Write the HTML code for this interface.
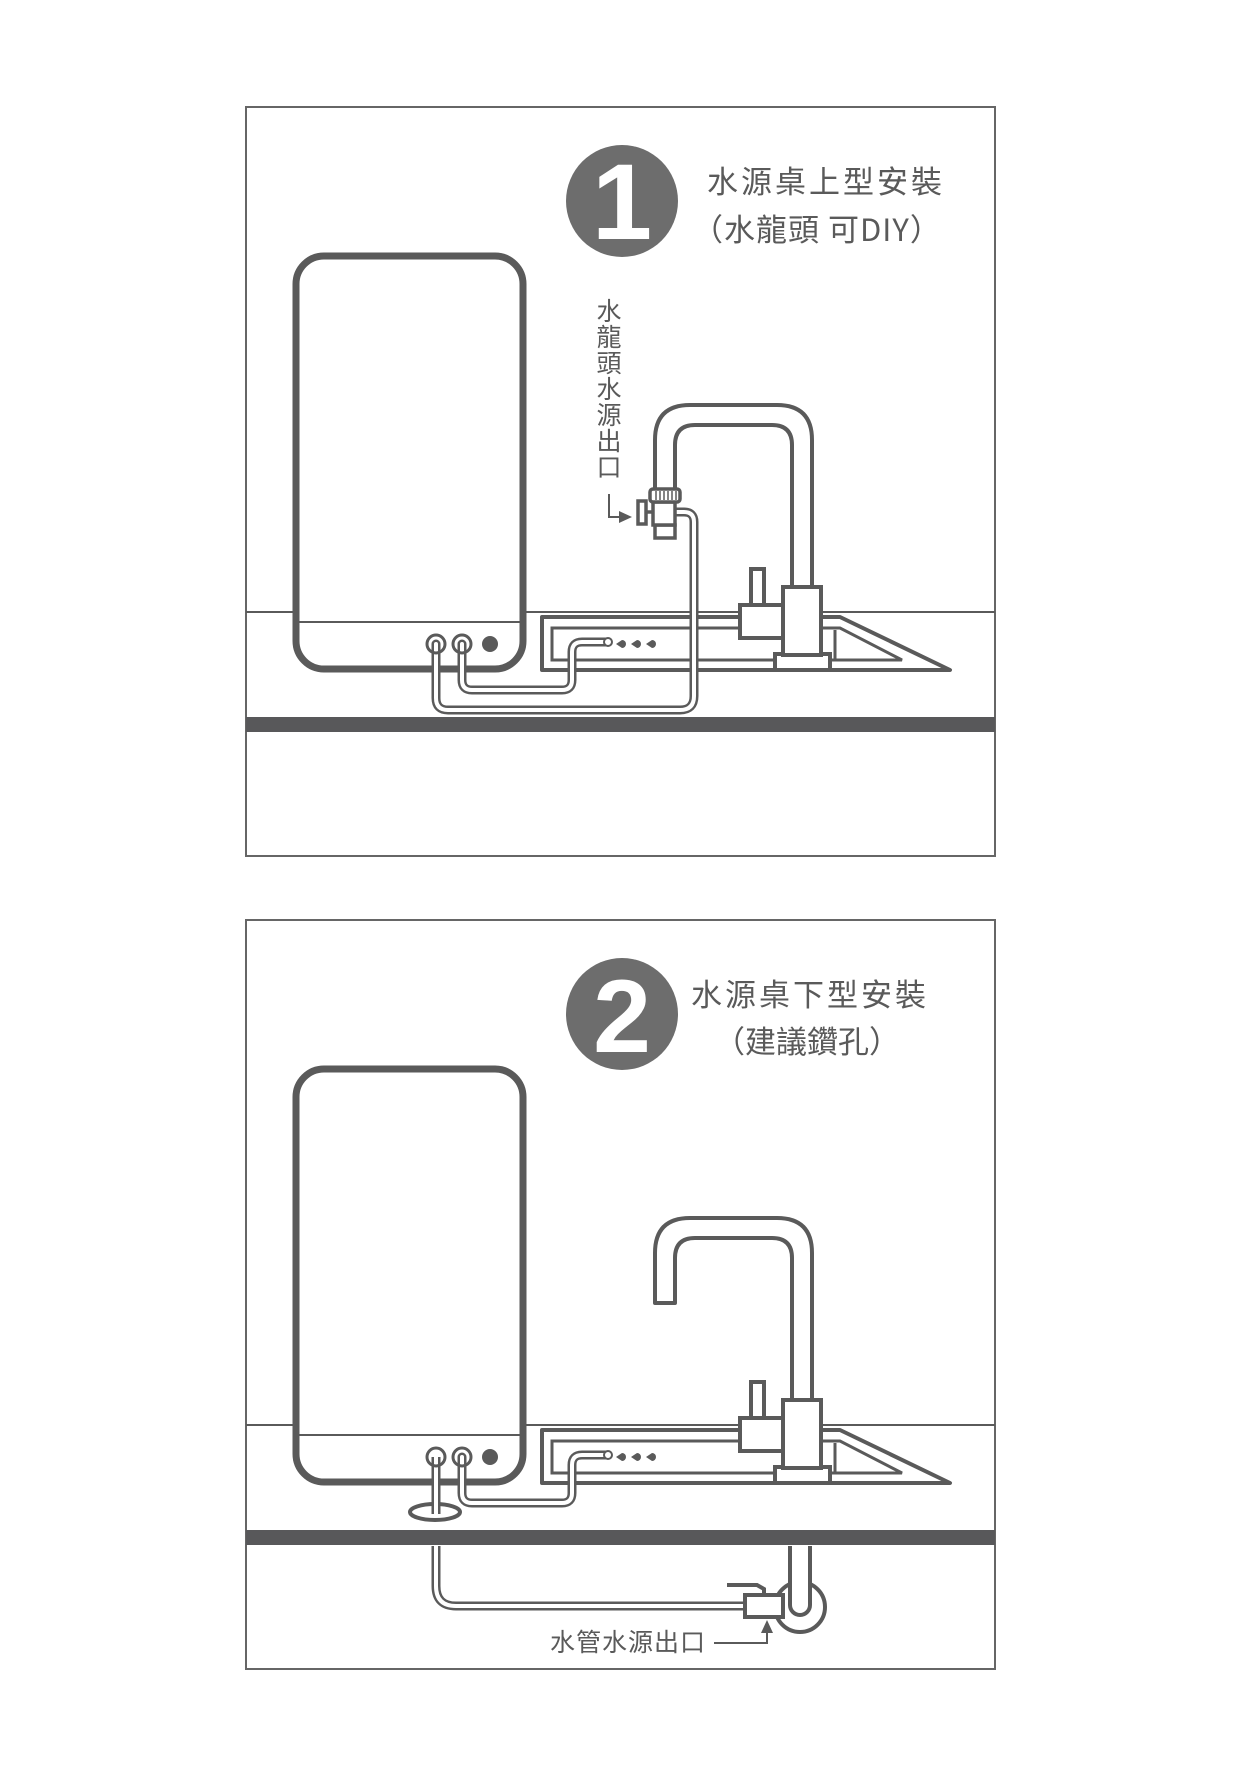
<!DOCTYPE html>
<html><head><meta charset="utf-8"><style>
html,body{margin:0;padding:0;background:#fff}
svg{display:block}
text{font-family:"Liberation Sans","Noto Sans CJK TC",sans-serif;fill:#5a5a5a}
.cjk{font-family:"Noto Sans CJK TC","Liberation Sans",sans-serif}
</style></head><body>
<svg width="1242" height="1778" viewBox="0 0 1242 1778" xmlns="http://www.w3.org/2000/svg">
<defs>
<g id="base">
  <line x1="246" y1="612" x2="995" y2="612" stroke="#5a5a5a" stroke-width="2"/>
  <rect x="246" y="717" width="749" height="15" fill="#58585a"/>
  <path d="M542,617 H840 L950,670 H542 Z" fill="#fff" stroke="#5a5a5a" stroke-width="4" stroke-linejoin="round"/>
  <path d="M552,628 H840 L902,660 H552 Z" fill="none" stroke="#5a5a5a" stroke-width="3"/>
  <line x1="835" y1="630" x2="835" y2="660" stroke="#5a5a5a" stroke-width="3"/>
  <rect x="296" y="256" width="227" height="413" rx="28" fill="#fff" stroke="#5a5a5a" stroke-width="7"/>
  <line x1="296" y1="622" x2="523" y2="622" stroke="#5a5a5a" stroke-width="2"/>
  <circle cx="490" cy="644" r="8" fill="#5a5a5a"/>
  <g fill="#5a5a5a">
    <path d="M616,644 L622,640 A4,4 0 1 1 622,648 Z"/>
    <path d="M631,644 L637,640 A4,4 0 1 1 637,648 Z"/>
    <path d="M646,644 L652,640 A4,4 0 1 1 652,648 Z"/>
  </g>
  <rect x="751" y="569" width="13" height="36" fill="#fff" stroke="#5a5a5a" stroke-width="4"/>
  <rect x="740" y="605" width="43" height="33" fill="#fff" stroke="#5a5a5a" stroke-width="4"/>
  <rect x="775" y="654" width="55" height="16" fill="#fff" stroke="#5a5a5a" stroke-width="4"/>
  <rect x="783" y="587" width="38" height="68" fill="#fff" stroke="#5a5a5a" stroke-width="4"/>
</g>
</defs>

<rect x="246" y="107" width="749" height="749" fill="none" stroke="#666" stroke-width="2"/>
<use href="#base"/>
<path d="M655,490 V440 Q655,405 690,405 H777 Q812,405 812,440 V587 H792 V445 Q792,425 772,425 H695 Q675,425 675,445 V490" fill="#fff" stroke="#5a5a5a" stroke-width="4" stroke-linejoin="round"/>
<g fill="none" stroke-linejoin="round" stroke-linecap="round">
  <path d="M436,644 V698 Q436,710 448,710 H680 Q694,710 694,696 V522 Q694,512 684,512 H676" stroke="#5a5a5a" stroke-width="9"/>
  <path d="M436,644 V698 Q436,710 448,710 H680 Q694,710 694,696 V522 Q694,512 684,512 H676" stroke="#fff" stroke-width="4"/>
  <path d="M462,644 V680 Q462,690 472,690 H562 Q572,690 572,680 V652 Q572,642 582,642 H606" stroke="#5a5a5a" stroke-width="9"/>
  <path d="M462,644 V680 Q462,690 472,690 H562 Q572,690 572,680 V652 Q572,642 582,642 H606" stroke="#fff" stroke-width="4"/>
</g>
<circle cx="608" cy="642" r="4" fill="#fff" stroke="#5a5a5a" stroke-width="2"/>
<circle cx="436" cy="644" r="9" fill="none" stroke="#5a5a5a" stroke-width="3"/>
<circle cx="462" cy="644" r="9" fill="none" stroke="#5a5a5a" stroke-width="3"/>
<g fill="#fff" stroke="#5a5a5a" stroke-width="3.5">
  <rect x="655" y="525" width="20" height="13"/>
  <rect x="653" y="502" width="22" height="23"/>
  <line x1="646" y1="512" x2="653" y2="512"/>
  <rect x="638" y="501" width="8" height="23"/>
  <rect x="650" y="489" width="30" height="13" rx="3"/>
</g>
<g stroke="#5a5a5a" stroke-width="1.5">
  <line x1="656" y1="491" x2="656" y2="500"/><line x1="660" y1="491" x2="660" y2="500"/><line x1="664" y1="491" x2="664" y2="500"/><line x1="668" y1="491" x2="668" y2="500"/><line x1="672" y1="491" x2="672" y2="500"/><line x1="676" y1="491" x2="676" y2="500"/>
</g>
<circle cx="622" cy="201" r="56" fill="#6d6d6d"/>
<text x="622" y="239" text-anchor="middle" font-size="108" font-weight="bold" style="fill:#fff">1</text>
<text x="707" y="193" font-size="31" letter-spacing="3">水源桌上型安裝</text>
<text class="cjk" x="692" y="241" font-size="31" letter-spacing="1">（水龍頭 可DIY）</text>
<g class="cjk" font-size="25" text-anchor="middle">
  <text x="609" y="320">水</text><text x="609" y="346">龍</text><text x="609" y="372">頭</text><text x="609" y="398">水</text><text x="609" y="424">源</text><text x="609" y="450">出</text><text x="609" y="476">口</text>
</g>
<path d="M609,494 V517 H620" fill="none" stroke="#5a5a5a" stroke-width="2"/>
<path d="M619,511 L632,517 L619,523 Z" fill="#5a5a5a"/>

<rect x="246" y="920" width="749" height="749" fill="none" stroke="#666" stroke-width="2"/>
<g transform="translate(0,813)">
  <use href="#base"/>
  <path d="M655,490 V440 Q655,405 690,405 H777 Q812,405 812,440 V587 H792 V445 Q792,425 772,425 H695 Q675,425 675,445 V490 Z" fill="#fff" stroke="#5a5a5a" stroke-width="4" stroke-linejoin="round"/>
  <g fill="none" stroke-linejoin="round" stroke-linecap="round">
    <path d="M462,644 V680 Q462,690 472,690 H562 Q572,690 572,680 V652 Q572,642 582,642 H606" stroke="#5a5a5a" stroke-width="9"/>
    <path d="M462,644 V680 Q462,690 472,690 H562 Q572,690 572,680 V652 Q572,642 582,642 H606" stroke="#fff" stroke-width="4"/>
  </g>
  <circle cx="608" cy="642" r="4" fill="#fff" stroke="#5a5a5a" stroke-width="2"/>
</g>
<ellipse cx="435" cy="1512" rx="25" ry="8" fill="none" stroke="#5a5a5a" stroke-width="4"/>
<g fill="none" stroke-linejoin="round">
  <path d="M436,1457 V1514" stroke="#5a5a5a" stroke-width="9"/>
  <path d="M436,1457 V1516" stroke="#fff" stroke-width="4"/>
  <path d="M436,1546 V1586 Q436,1606 456,1606 H748" stroke="#5a5a5a" stroke-width="9"/>
  <path d="M436,1546 V1586 Q436,1606 456,1606 H748" stroke="#fff" stroke-width="4"/>
</g>
<circle cx="436" cy="1457" r="9" fill="none" stroke="#5a5a5a" stroke-width="3"/>
<circle cx="462" cy="1457" r="9" fill="none" stroke="#5a5a5a" stroke-width="3"/>
<circle cx="800" cy="1607" r="25" fill="#fff" stroke="#5a5a5a" stroke-width="4"/>
<path d="M790,1546 V1605 A10,10 0 0 0 810,1605 V1546" fill="#fff" stroke="#5a5a5a" stroke-width="4"/>
<path d="M727,1585 H757 L764,1589 V1595" fill="none" stroke="#5a5a5a" stroke-width="4"/>
<rect x="745" y="1595" width="38" height="22" fill="#fff" stroke="#5a5a5a" stroke-width="4"/>
<text class="cjk" x="550" y="1651" font-size="25" letter-spacing="1">水管水源出口</text>
<path d="M714,1643 H767 V1632" fill="none" stroke="#5a5a5a" stroke-width="2"/>
<path d="M761,1633 L767,1620 L773,1633 Z" fill="#5a5a5a"/>
<circle cx="622" cy="1014" r="56" fill="#6d6d6d"/>
<text x="622" y="1052" text-anchor="middle" font-size="104" font-weight="bold" style="fill:#fff">2</text>
<text x="691" y="1006" font-size="31" letter-spacing="3">水源桌下型安裝</text>
<text class="cjk" x="714" y="1053" font-size="31">（建議鑽孔）</text>
</svg>
</body></html>
